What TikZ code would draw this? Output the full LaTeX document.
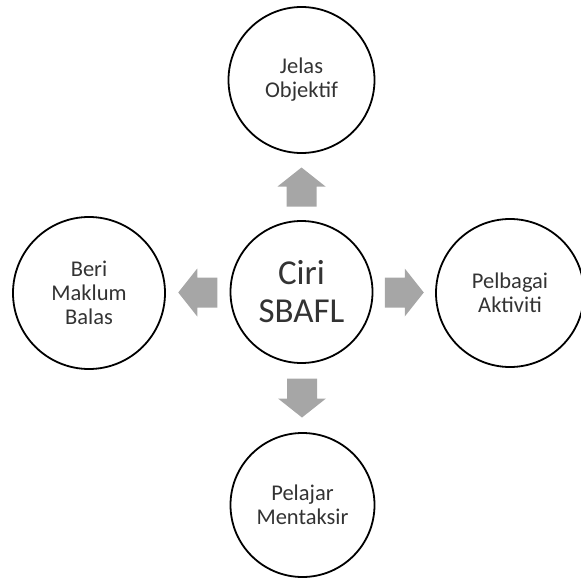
\documentclass[tikz,border=0pt]{standalone}
\usepackage{fontspec}
\setmainfont{Carlito}
\usetikzlibrary{calc}
\definecolor{txtgray}{HTML}{333333}
\definecolor{arrgray}{HTML}{A6A6A6}
\tikzset{
  bubble/.style={circle, draw=black, line width=1.8pt, fill=white, align=center,
    text=txtgray, inner sep=0pt, font=\fontsize{22.5}{24}\selectfont},
  hub/.style={bubble, font=\fontsize{35}{38}\selectfont},
  pics/fatarrow/.style={code={
    \fill[arrgray] (-19.5,-15) -- (0.5,-15) -- (0.5,-24) -- (19.5,0) -- (0.5,24) -- (0.5,15) -- (-19.5,15) -- cycle;}}
}
\begin{document}
\begin{tikzpicture}[x=1pt,y=-1pt]
\useasboundingbox (0,0) rectangle (581,578);
\node[hub, minimum size=142] (c) at (301.5,292) {Ciri\\SBAFL};
\node[bubble, minimum size=146] (t) at (301.5,80) {Jelas\\Objektif};
\node[bubble, minimum size=152] (l) at (89,293) {Beri\\Maklum\\Balas};
\node[bubble, minimum size=148] (r) at (510,293) {Pelbagai\\Aktiviti};
\node[bubble, minimum size=144] (b) at (302.5,505) {Pelajar\\Mentaksir};
\pic[rotate=90] at ($(c.north)!0.5!(t.south)$) {fatarrow};
\pic[rotate=180] at ($(c.west)!0.5!(l.east)$) {fatarrow};
\pic at ($(c.east)!0.5!(r.west)$) {fatarrow};
\pic[rotate=-90] at ($(c.south)!0.5!(b.north)$) {fatarrow};
\end{tikzpicture}
\end{document}
